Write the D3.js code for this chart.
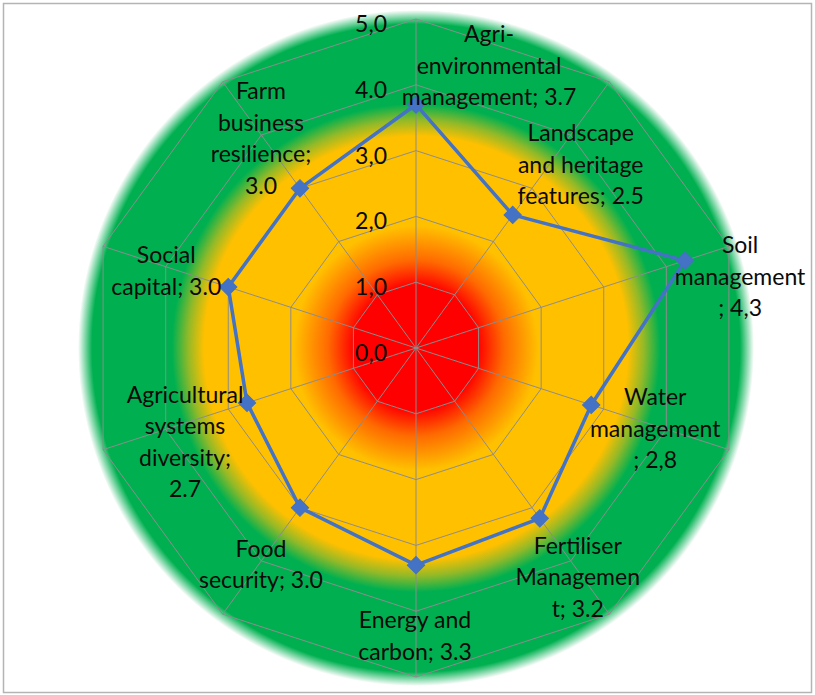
<!DOCTYPE html>
<html>
<head>
<meta charset="utf-8">
<script src="https://cdn.jsdelivr.net/npm/d3@7/dist/d3.min.js"></script>
<style>
  html, body { margin: 0; padding: 0; background: #fff; }
  svg { display: block; }
  text { font-family: Lato, "Open Sans", sans-serif; fill: #0a0a0a; }
</style>
</head>
<body>
<svg id="chart" width="815" height="695"></svg>
<script>
// Sustainability scores per theme (clockwise from the top)
const categories = [
  "Agri-environmental management",
  "Landscape and heritage features",
  "Soil management",
  "Water management",
  "Fertiliser Management",
  "Energy and carbon",
  "Food security",
  "Agricultural systems diversity",
  "Social capital",
  "Farm business resilience"
];
const values = [3.7, 2.5, 4.3, 2.8, 3.2, 3.3, 3.0, 2.7, 3.0, 3.0];

// Data label text, line by line
const labelLines = [
  ["Agri-", "environmental", "management; 3.7"],
  ["Landscape", "and heritage", "features; 2.5"],
  ["Soil", "management", "; 4,3"],
  ["Water", "management", "; 2,8"],
  ["Fertiliser", "Managemen", "t; 3.2"],
  ["Energy and", "carbon; 3.3"],
  ["Food", "security; 3.0"],
  ["Agricultural", "systems", "diversity;", "2.7"],
  ["Social", "capital; 3.0"],
  ["Farm", "business", "resilience;", "3.0"]
];

// Radial axis ticks
const tickValues = [0, 1, 2, 3, 4, 5];
const tickLabels = ["0,0", "1,0", "2,0", "3,0", "4.0", "5,0"];

// Placement of each data label block relative to its marker
const labelOffsets = [
  [73, -40], [68, -51], [55, 15], [64, 23], [38, 58],
  [-1, 70], [-39, 56], [-62, 38], [-62, -17], [-39, -51]
];

const svg = d3.select("#chart");
const W = 815, H = 695;
const cx = 416, cy = 348;
const rMax = 329;

// Outer frame
svg.append("rect")
  .attr("x", 3.5).attr("y", 3.5)
  .attr("width", W - 7).attr("height", H - 6)
  .attr("fill", "#fff")
  .attr("stroke", "#b4b4b4").attr("stroke-width", 1.5);

const r = d3.scaleLinear().domain([0, 5]).range([0, rMax]);
const angle = d3.scaleLinear().domain([0, categories.length]).range([0, 2 * Math.PI]);

const pt = (i, v) => {
  const a = angle(i);
  return [cx + r(v) * Math.sin(a), cy - r(v) * Math.cos(a)];
};

// Red → amber → green radial backdrop
const defs = svg.append("defs");
const R = 338;
const grad = defs.append("radialGradient")
  .attr("id", "bg").attr("gradientUnits", "userSpaceOnUse")
  .attr("cx", cx).attr("cy", cy).attr("r", R);
[
  [0, "#ff0000", 1],
  [62 / R, "#ff0000", 1],
  [88 / R, "#ff6a00", 1],
  [122 / R, "#ffc000", 1],
  [212 / R, "#ffc000", 1],
  [228 / R, "#92b928", 1],
  [244 / R, "#00b050", 1],
  [324 / R, "#00b050", 1],
  [1, "#00b050", 0]
].forEach(([o, c, a]) => grad.append("stop")
  .attr("offset", o).attr("stop-color", c).attr("stop-opacity", a));

svg.append("circle")
  .attr("cx", cx).attr("cy", cy).attr("r", R)
  .attr("fill", "url(#bg)");

// Grid rings
const ringLine = d3.line();
const g = svg.append("g");
tickValues.filter(t => t > 0).forEach(t => {
  const pts = categories.map((_, i) => pt(i, t));
  g.append("path")
    .attr("d", ringLine(pts) + "Z")
    .attr("fill", "none")
    .attr("stroke", "#8c8c8c").attr("stroke-width", 1);
});

// Spokes
categories.forEach((_, i) => {
  const [x, y] = pt(i, 5);
  g.append("line")
    .attr("x1", cx).attr("y1", cy).attr("x2", x).attr("y2", y)
    .attr("stroke", "#8c8c8c").attr("stroke-width", 1);
});

// Tick labels along the vertical axis
svg.append("g").selectAll("text")
  .data(tickValues)
  .join("text")
  .attr("x", cx - 29)
  .attr("y", d => cy - r(d) + 4)
  .attr("text-anchor", "end")
  .attr("dominant-baseline", "central")
  .style("font-size", "23px")
  .text((d, i) => tickLabels[i]);

// Series line
const seriesPts = values.map((v, i) => pt(i, v));
svg.append("path")
  .attr("d", d3.line()(seriesPts) + "Z")
  .attr("fill", "none")
  .attr("stroke", "#4472c4")
  .attr("stroke-width", 3.5)
  .attr("stroke-linejoin", "round");

// Diamond markers
svg.append("g").selectAll("path")
  .data(seriesPts)
  .join("path")
  .attr("transform", d => `translate(${d[0]},${d[1]}) rotate(45)`)
  .attr("d", d3.symbol().type(d3.symbolSquare).size(150))
  .attr("fill", "#4472c4")
  .attr("stroke", "#4472c4").attr("stroke-width", 1);

// Data labels
const lineH = 31.5;
const lbl = svg.append("g");
labelLines.forEach((lines, i) => {
  const [mx, my] = seriesPts[i];
  const [ox, oy] = labelOffsets[i];
  const x0 = mx + ox, y0 = my + oy - (lines.length - 1) * lineH / 2;
  const t = lbl.append("text")
    .attr("text-anchor", "middle")
    .style("font-size", "23px");
  lines.forEach((s, j) => {
    t.append("tspan")
      .attr("x", x0)
      .attr("y", y0 + j * lineH)
      .attr("dominant-baseline", "central")
      .text(s);
  });
});
</script>
</body>
</html>
